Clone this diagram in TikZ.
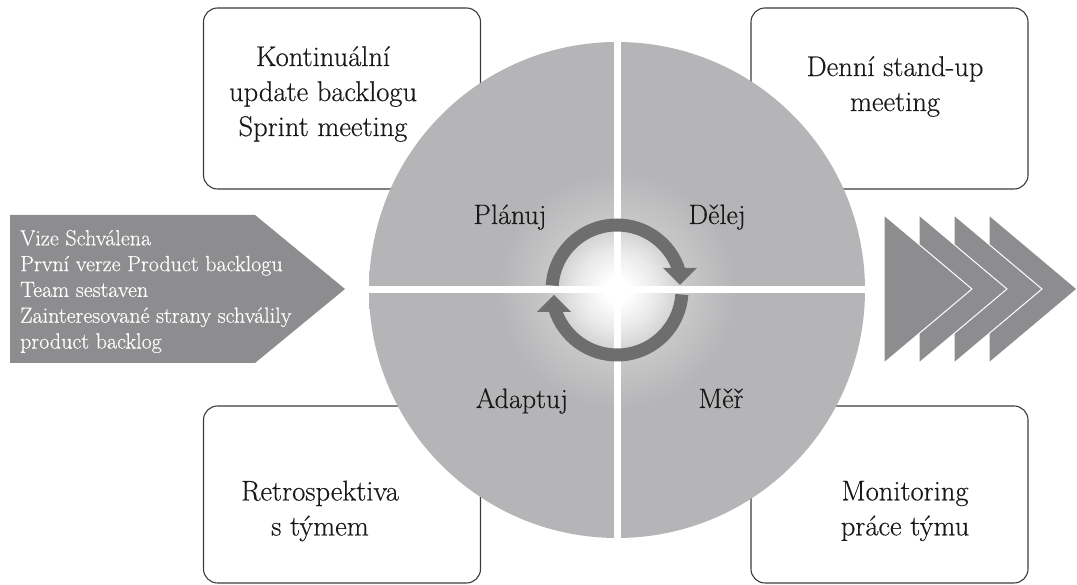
\documentclass[tikz,border=0pt]{standalone}
\usepackage{fontspec}
\setmainfont{Latin Modern Roman}[FakeBold=0.4]
\definecolor{quad}{HTML}{B5B5B7}
\definecolor{darkarr}{HTML}{8D8D8F}
\definecolor{ringc}{HTML}{6E6E6E}
\definecolor{edge}{HTML}{3C3C3C}
\pgfdeclareradialshading{glow}{\pgfpoint{0bp}{0bp}}{color(0bp)=(white); color(1.2bp)=(white); color(4bp)=(quad!30!white); color(7bp)=(quad!75!white); color(12bp)=(quad); color(50bp)=(quad)}
\begin{document}
\begin{tikzpicture}[x=1pt, y=1pt,
  box/.style={draw=edge, line width=1.1pt, rounded corners=14pt, fill=white, minimum width=277pt, minimum height=181pt},
  boxtxt/.style={align=center, font=\fontsize{28.5}{35}\selectfont, text=black!90},
  quadlbl/.style={anchor=base, font=\fontsize{28}{35}\selectfont, text=black!90},
  ring/.style={draw=ringc, line width=13pt},
  chev/.style={fill=darkarr, draw=white, line width=1pt}
]
\useasboundingbox (0,0) rectangle (1077,585);
\node[box] (b1) at (342,486.5) {};
\node[box] (b2) at (889.5,486.5) {};
\node[box, minimum height=177pt] (b3) at (342,90.5) {};
\node[box, minimum height=177pt] (b4) at (889.5,90.5) {};
\node[boxtxt] (t1) at (323,491) {Kontinuální\\update backlogu\\Sprint meeting};
\node[boxtxt] (t2) at (895,498.5) {Denní stand-up\\meeting};
\node[boxtxt] (t3) at (320,74) {Retrospektiva\\s týmem};
\node[boxtxt] (t4) at (905,74) {Monitoring\\práce týmu};
\shade[shading=glow] (617,295) circle (248);
\begin{scope}
  \clip (617,295) circle (248);
  \draw[white, line width=7pt] (360,295) -- (880,295);
  \draw[white, line width=7pt] (617,40) -- (617,550);
\end{scope}
\draw[ring] (617,295) ++(176:65) arc[start angle=176, end angle=12, radius=65];
\draw[ring] (617,295) ++(-4:65) arc[start angle=-4, end angle=-168, radius=65];
\fill[ringc] (663,317) -- (697,317) -- (680,300) -- cycle;
\fill[ringc] (571,273) -- (537,273) -- (554,290) -- cycle;
\foreach \px/\py/\lbl [count=\i] in {510/361/Plánuj, 717/361/Dělej, 522/177/Adaptuj, 721/177/Měř}
  \node[quadlbl] (q\i) at (\px,\py) {\lbl};
\fill[darkarr] (10,370) -- (255,370) -- (345,296) -- (255,222) -- (10,222) -- cycle;
\node[align=left, anchor=west, text=white, font=\fontsize{22}{25.8}\selectfont, inner sep=0pt] (vstup) at (20,293.5)
  {Vize Schválena\\První verze Product backlogu\\Team sestaven\\Zainteresované strany schválily\\product backlog};
\foreach \cx in {989,954,919,884}
  \filldraw[chev] (\cx,370) -- (\cx+88,296) -- (\cx,222) -- cycle;
\end{tikzpicture}
\end{document}
